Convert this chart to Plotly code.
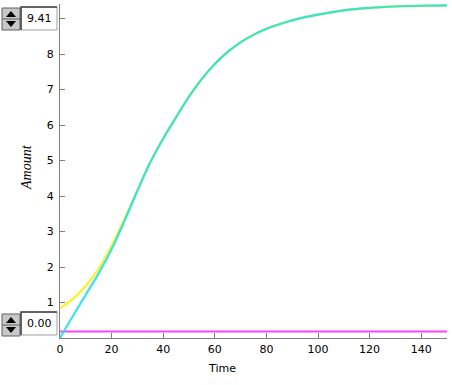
import plotly.graph_objects as go

# ---- data ----
time = [0, 5, 10, 15, 20, 25, 30, 35, 40, 45, 50, 55, 60, 65, 70, 75, 80, 85, 90, 95,
        100, 110, 120, 130, 140, 150]
cyan_vals = [0, 0.62, 1.22, 1.82, 2.5, 3.3, 4.15, 4.95, 5.62, 6.22, 6.8, 7.3, 7.72, 8.06,
             8.33, 8.54, 8.71, 8.84, 8.95, 9.04, 9.11, 9.23, 9.30, 9.34, 9.36, 9.37]
yellow_vals = [0.84, 1.1, 1.47, 1.95, 2.6, 3.35, 4.15, 4.95, 5.62, 6.22, 6.8, 7.3, 7.72, 8.06,
               8.33, 8.54, 8.71, 8.84, 8.95, 9.04, 9.11, 9.23, 9.30, 9.34, 9.36, 9.37]
magenta_vals = [0.18] * len(time)

x_ticks = [0, 20, 40, 60, 80, 100, 120, 140]
y_ticks = [0, 1, 2, 3, 4, 5, 6, 7, 8, 9]
y_ticktext = ["", "1", "2", "3", "4", "5", "6", "7", "8", ""]
y_min, y_max = 0.0, 9.41
x_min, x_max = 0, 150

W, H = 452, 385
ML, MR, MT, MB = 60, 5, 4, 47
PW = W - ML - MR
PH = H - MT - MB


def px_x(px):
    return (px - ML) / PW


def px_y(py):
    return (H - MB - py) / PH


fig = go.Figure()
fig.add_trace(go.Scatter(x=time, y=magenta_vals, mode="lines",
                         line=dict(color="#FF40FF", width=2), showlegend=False))
fig.add_trace(go.Scatter(x=time, y=yellow_vals, mode="lines", line_shape="spline",
                         line=dict(color="#F5F53C", width=2.5), showlegend=False))
fig.add_trace(go.Scatter(x=time, y=cyan_vals, mode="lines", line_shape="spline",
                         line=dict(color="#20E0E8", width=2.2), opacity=0.88,
                         showlegend=False))

shapes = []
annotations = []


def spinner(top, bottom, btn_top, btn_bottom, text):
    shapes.append(dict(type="rect", xref="paper", yref="paper",
                       x0=px_x(2), x1=px_x(20), y0=px_y(btn_bottom), y1=px_y(btn_top),
                       fillcolor="#C8C8C8", line=dict(color="#606060", width=1)))
    mid = (btn_top + btn_bottom) / 2
    shapes.append(dict(type="line", xref="paper", yref="paper",
                       x0=px_x(2), x1=px_x(20), y0=px_y(mid), y1=px_y(mid),
                       line=dict(color="#606060", width=1)))
    t1, t2 = btn_top + 3, mid - 2
    shapes.append(dict(type="path", xref="paper", yref="paper",
                       path=f"M {px_x(6)} {px_y(t2)} L {px_x(16)} {px_y(t2)} L {px_x(11)} {px_y(t1)} Z",
                       fillcolor="black", line=dict(color="black", width=0)))
    b1, b2 = mid + 2, btn_bottom - 3
    shapes.append(dict(type="path", xref="paper", yref="paper",
                       path=f"M {px_x(6)} {px_y(b1)} L {px_x(16)} {px_y(b1)} L {px_x(11)} {px_y(b2)} Z",
                       fillcolor="black", line=dict(color="black", width=0)))
    shapes.append(dict(type="rect", xref="paper", yref="paper",
                       x0=px_x(21), x1=px_x(57), y0=px_y(bottom), y1=px_y(top),
                       fillcolor="white", line=dict(color="#A0A0A0", width=1)))
    shapes.append(dict(type="path", xref="paper", yref="paper",
                       path=f"M {px_x(21)} {px_y(bottom)} L {px_x(21)} {px_y(top)} L {px_x(57)} {px_y(top)}",
                       line=dict(color="#404040", width=1.5)))
    annotations.append(dict(x=px_x(54), y=px_y((top + bottom) / 2), xref="paper", yref="paper",
                            text=text, showarrow=False, xanchor="right", yanchor="middle",
                            font=dict(family="DejaVu Sans", size=11, color="black")))


spinner(7, 30, 8, 30, f"{y_max:.2f}")
spinner(312, 335, 314, 336, f"{y_min:.2f}")

annotations.append(dict(x=px_x(26), y=px_y(167), xref="paper", yref="paper",
                        text="<i>Amount</i>", showarrow=False, textangle=-90,
                        xanchor="center", yanchor="middle",
                        font=dict(family="Liberation Serif", size=14, color="black")))
annotations.append(dict(x=px_x(222), y=px_y(369), xref="paper", yref="paper",
                        text="Time", showarrow=False, xanchor="center", yanchor="middle",
                        font=dict(family="DejaVu Sans", size=11, color="black")))

fig.update_layout(
    width=W, height=H,
    margin=dict(l=ML, r=MR, t=MT, b=MB, pad=0),
    paper_bgcolor="white", plot_bgcolor="white",
    font=dict(family="DejaVu Sans", size=11, color="black"),
    shapes=shapes, annotations=annotations,
    xaxis=dict(range=[x_min, x_max], tickvals=x_ticks, ticks="inside", ticklen=5,
               tickcolor="#808080", showline=True, linecolor="#808080", linewidth=1,
               showgrid=False, zeroline=False, ticklabelstandoff=1),
    yaxis=dict(range=[y_min, y_max], tickvals=y_ticks, ticktext=y_ticktext,
               ticks="inside", ticklen=5, tickcolor="#808080", showline=True,
               linecolor="#808080", linewidth=1, showgrid=False, zeroline=False,
               ticklabelstandoff=3),
)

fig.write_html("out.html", config={"displayModeBar": False},
               post_script="document.body.style.margin='0';document.body.style.overflow='hidden';")
